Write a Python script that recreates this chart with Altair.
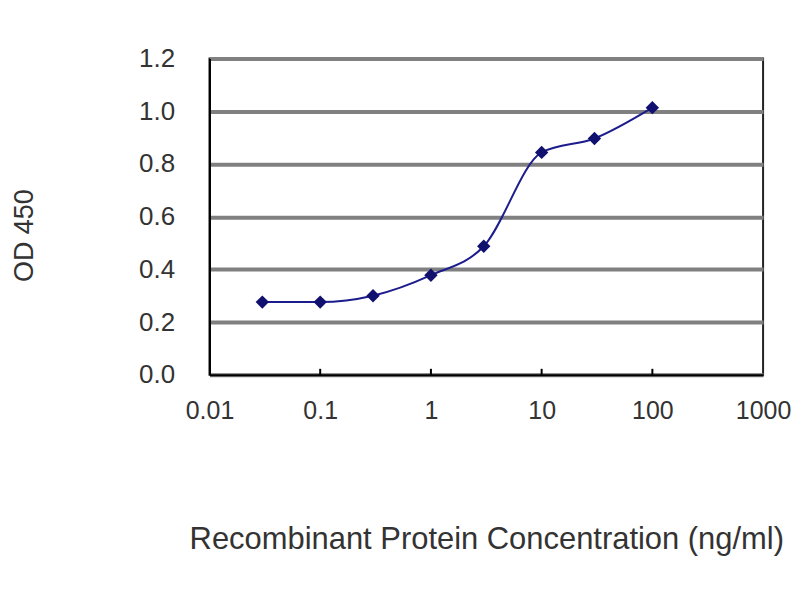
import pandas as pd
import altair as alt

# Concentrations (ng/ml) and OD 450 readings
concentration = [0.03, 0.1, 0.3, 1, 3, 10, 30, 100]
od450 = [0.276, 0.276, 0.30, 0.378, 0.488, 0.844, 0.897, 1.014]

x_ticks = [0.01, 0.1, 1, 10, 100, 1000]
y_ticks = [0.0, 0.2, 0.4, 0.6, 0.8, 1.0, 1.2]
inner_x_ticks = [0.1, 1, 10, 100]

W, H = 555, 317

df = pd.DataFrame({"conc": concentration, "od": od450})
tick_df = pd.DataFrame({"conc": inner_x_ticks})

x_scale = alt.Scale(type="log", domain=[0.01, 1000])
y_scale = alt.Scale(domain=[0, 1.2])

x_enc = alt.X(
    "conc:Q",
    title="Recombinant Protein Concentration (ng/ml)",
    scale=x_scale,
    axis=alt.Axis(values=x_ticks, format="~g", grid=False, ticks=False,
                  labelPadding=24, labelFontSize=25, labelFlush=False,
                  labelOverlap=False,
                  titleY=174, titleBaseline="alphabetic", titleFontSize=31,
                  domainColor="#000000", domainWidth=2),
)
y_enc = alt.Y(
    "od:Q",
    title="OD 450",
    scale=y_scale,
    axis=alt.Axis(values=y_ticks, format=".1f", gridColor="#808080",
                  gridWidth=4, gridOpacity=1, ticks=False, labelPadding=35,
                  labelFontSize=26, labelFlush=False,
                  titleX=-177, titleY=177,
                  titleBaseline="alphabetic", titleFontSize=27,
                  domainColor="#000000", domainWidth=2),
)

base = alt.Chart(df).encode(x=x_enc, y=y_enc)

line = base.mark_line(color="#1c1c8c", strokeWidth=2, interpolate="monotone")
points = base.mark_point(shape="diamond", filled=True, color="#10106e",
                         size=180, opacity=1)

# little upward tick marks on the x axis
x_tick_marks = alt.Chart(tick_df).mark_rule(color="#000000", strokeWidth=2).encode(
    x=alt.X("conc:Q", scale=x_scale),
    y=alt.value(H),
    y2=alt.value(H - 6),
)

chart = (line + points + x_tick_marks).properties(
    width=W,
    height=H,
    autosize=alt.AutoSizeParams(type="none"),
    padding={"left": 202, "top": 50, "right": 29, "bottom": 217},
).configure_view(
    stroke="#222222", strokeWidth=2
).configure_axis(
    labelFont="Liberation Sans", titleFont="Liberation Sans",
    labelColor="#333333", titleColor="#333333", titleFontWeight="normal",
)

chart.save("out.html", embed_options={"renderer": "svg", "actions": False})
